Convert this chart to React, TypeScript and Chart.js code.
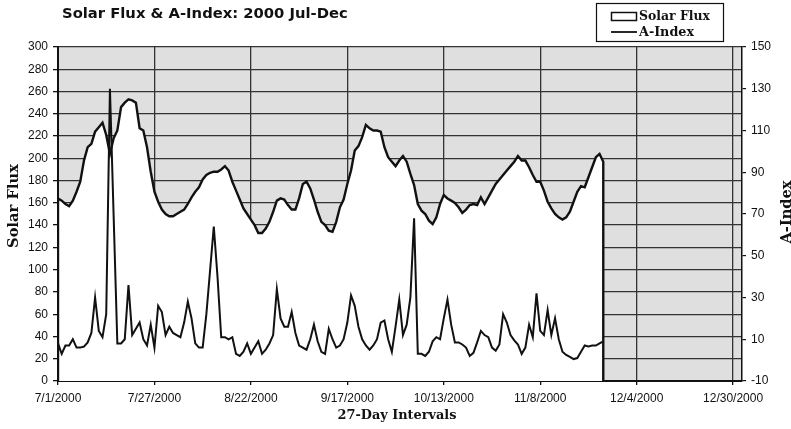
import React, { useEffect, useRef } from "react";
import { Chart, registerables } from "chart.js";

Chart.register(...registerables);

// ---------- text ----------
const chartTitle = "Solar Flux & A-Index: 2000 Jul-Dec";
const xAxisTitle = "27-Day Intervals";
const leftAxisTitle = "Solar Flux";
const rightAxisTitle = "A-Index";
const seriesNames = ["Solar Flux", "A-Index"];

// ---------- axes ----------
const startDate = "7/1/2000";
const xTickLabels = [
  "7/1/2000",
  "7/27/2000",
  "8/22/2000",
  "9/17/2000",
  "10/13/2000",
  "11/8/2000",
  "12/4/2000",
  "12/30/2000",
];
const leftTickValues = [0, 20, 40, 60, 80, 100, 120, 140, 160, 180, 200, 220, 240, 260, 280, 300];
const rightTickValues = [-10, 10, 30, 50, 70, 90, 110, 130, 150];

// ---------- data: one value per day from 7/1/2000 ----------
const solarFlux = [
  164, 162, 159, 157, 162, 170, 179, 198, 210, 213,
  224, 228, 232, 221, 204, 218, 225, 246, 250, 253,
  252, 250, 227, 225, 210, 188, 170, 161, 154, 150,
  148, 148, 150, 152, 154, 159, 165, 170, 174, 181,
  185, 187, 188, 188, 190, 193, 189, 179, 171, 163,
  155, 150, 145, 140, 133, 133, 137, 143, 152, 162,
  164, 163, 158, 154, 154, 164, 177, 179, 173, 163,
  152, 143, 140, 135, 134, 143, 156, 163, 177, 189,
  207, 211, 219, 230, 227, 225, 225, 224, 210, 201,
  197, 193, 198, 202, 197, 186, 176, 159, 153, 150,
  144, 141, 147, 159, 167, 164, 162, 160, 156, 151,
  154, 158, 159, 158, 165, 159, 165, 171, 177, 181,
  185, 189, 193, 197, 202, 198, 198, 192, 185, 179,
  179, 171, 161, 155, 150, 147, 145, 147, 152, 161,
  170, 175, 174, 183, 192, 201, 204, 197,
];

const aIndex = [
  8, 3, 7, 7, 10, 6, 6, 6.5, 8.5, 13,
  30, 14, 11, 22, 130, 69, 8, 8, 10, 36,
  12, 15, 18, 10, 7, 17, 6, 26, 23, 12,
  16, 13, 12, 11, 18, 28, 20, 8, 6, 6,
  22, 43, 64, 40, 11, 11, 10, 11, 3, 2,
  4, 8, 3, 6, 9, 3, 5, 8, 12, 34,
  20, 16, 16, 23, 13, 7, 6, 5, 10, 17,
  9, 4, 3, 15, 10, 6, 7, 10, 18, 31,
  26, 16, 10, 7, 5, 7, 10, 18, 19, 10,
  4, 16, 29, 12, 17, 30, 68, 3, 3, 2,
  4, 9, 11, 10, 20, 29, 17, 8.5, 8.5, 7.5,
  6, 2, 3.5, 8.5, 14, 12, 11, 6, 4.5, 7.5,
  22, 18, 12, 9.5, 7.5, 3, 6, 17, 11, 32,
  14, 12, 24, 12, 20, 10, 4, 2.5, 1.5, 0.5,
  1, 4, 7, 6.5, 7, 7, 8, 9,
];

// ---------- helpers ----------
function dayOffset(label: string): number {
  const [m, d, y] = label.split("/").map(Number);
  const [m0, d0, y0] = startDate.split("/").map(Number);
  return Math.round((Date.UTC(y, m - 1, d) - Date.UTC(y0, m0 - 1, d0)) / 86400000);
}

const xTickDays = xTickLabels.map(dayOffset);
const lastDay = solarFlux.length - 1;

// area polygon closed down to the baseline at both ends
const fluxPoints = [
  { x: 0, y: 0 },
  ...solarFlux.map((v, i) => ({ x: i, y: v })),
  { x: lastDay, y: 0 },
];
const aIndexPoints = aIndex.map((v, i) => ({ x: i, y: v }));

const TICK_FONT = { family: "'Liberation Sans', Arial, sans-serif", size: 12 };
const SERIF = "'DejaVu Serif', 'Liberation Serif', serif";
const INK = "#111111";
const GRID = "#333333";

function fitFont(ctx: CanvasRenderingContext2D, text: string, weight: string, family: string, target: number, base: number) {
  ctx.font = `${weight} ${base}px ${family}`;
  const w = ctx.measureText(text).width;
  const size = (base * target) / w;
  return `${weight} ${size.toFixed(2)}px ${family}`;
}

const decorPlugin = {
  id: "decor",
  beforeDraw(chart: any) {
    const { ctx, chartArea: a } = chart;
    ctx.save();
    ctx.fillStyle = "#dfdfdf";
    ctx.fillRect(a.left, a.top, a.right - a.left, a.bottom - a.top);
    ctx.restore();
  },
  afterDraw(chart: any) {
    const ctx: CanvasRenderingContext2D = chart.ctx;
    ctx.save();
    ctx.fillStyle = INK;
    ctx.textBaseline = "middle";

    // chart title
    ctx.textAlign = "left";
    ctx.font = fitFont(ctx, chartTitle, "bold", "'DejaVu Sans', sans-serif", 286, 13);
    ctx.fillText(chartTitle, 62, 14);

    // x axis title
    ctx.textAlign = "center";
    ctx.font = fitFont(ctx, xAxisTitle, "bold", SERIF, 119, 11);
    ctx.fillText(xAxisTitle, 397, 416);

    // left axis title
    ctx.save();
    ctx.translate(14, 206);
    ctx.rotate(-Math.PI / 2);
    ctx.font = fitFont(ctx, leftAxisTitle, "bold", SERIF, 84, 12);
    ctx.fillText(leftAxisTitle, 0, 0);
    ctx.restore();

    // right axis title
    ctx.save();
    ctx.translate(787, 212);
    ctx.rotate(-Math.PI / 2);
    ctx.font = fitFont(ctx, rightAxisTitle, "bold", SERIF, 63, 12);
    ctx.fillText(rightAxisTitle, 0, 0);
    ctx.restore();

    // legend
    const bx = 596, by = 3, bw = 127, bh = 38;
    ctx.fillStyle = "#ffffff";
    ctx.fillRect(bx, by, bw, bh);
    ctx.strokeStyle = INK;
    ctx.lineWidth = 1.2;
    ctx.strokeRect(bx + 0.5, by + 0.5, bw, bh);
    // solar flux swatch (hollow box)
    ctx.lineWidth = 1.5;
    ctx.strokeRect(611.5, 12.5, 25, 8);
    // a-index swatch (line)
    ctx.beginPath();
    ctx.moveTo(611, 32);
    ctx.lineTo(637, 32);
    ctx.lineWidth = 1.8;
    ctx.stroke();
    ctx.fillStyle = INK;
    ctx.textAlign = "left";
    ctx.font = fitFont(ctx, seriesNames[0], "bold", SERIF, 71, 10);
    ctx.fillText(seriesNames[0], 639, 17);
    ctx.font = fitFont(ctx, seriesNames[1], "bold", SERIF, 55, 10);
    ctx.fillText(seriesNames[1], 639, 33);

    ctx.restore();
  },
};

export default function App() {
  const ref = useRef<HTMLCanvasElement | null>(null);

  useEffect(() => {
    if (!ref.current) return;
    const chart = new Chart(ref.current, {
      type: "line",
      data: {
        datasets: [
          {
            label: seriesNames[1],
            data: aIndexPoints,
            yAxisID: "y2",
            borderColor: INK,
            borderWidth: 2,
            pointRadius: 0,
            fill: false,
            tension: 0,
            order: 1,
          },
          {
            label: seriesNames[0],
            data: fluxPoints,
            yAxisID: "y",
            borderColor: INK,
            borderWidth: 2.4,
            backgroundColor: "#ffffff",
            pointRadius: 0,
            fill: "origin",
            tension: 0,
            order: 2,
          },
        ],
      } as any,
      options: {
        animation: false,
        responsive: true,
        maintainAspectRatio: false,
        layout: { padding: { top: 47, left: 0, right: 0, bottom: 0 } },
        plugins: {
          legend: { display: false },
          title: { display: false },
          tooltip: { enabled: false },
        },
        scales: {
          x: {
            type: "linear",
            bounds: "data",
            min: 0,
            max: xTickDays[xTickDays.length - 1] + 2.4,
            afterBuildTicks: (s: any) => {
              s.ticks = xTickDays.map((v) => ({ value: v }));
            },
            afterFit: (s: any) => {
              s.height = 48;
            },
            ticks: {
              autoSkip: false,
              maxRotation: 0,
              padding: 6,
              color: INK,
              font: TICK_FONT,
              callback: (v: any) => xTickLabels[xTickDays.indexOf(Number(v))] ?? "",
            },
            grid: { color: GRID, lineWidth: 1.3, tickLength: 4, tickColor: INK },
            border: { color: INK, width: 2 },
          },
          y: {
            type: "linear",
            position: "left",
            bounds: "data",
            min: 0,
            max: 300,
            afterBuildTicks: (s: any) => {
              s.ticks = leftTickValues.map((v) => ({ value: v }));
            },
            afterFit: (s: any) => {
              s.width = 58;
            },
            ticks: { padding: 5, color: INK, font: TICK_FONT, autoSkip: false },
            grid: { color: GRID, lineWidth: 1.3, tickLength: 5, tickColor: INK },
            border: { color: INK, width: 2 },
          },
          y2: {
            type: "linear",
            position: "right",
            bounds: "data",
            min: -10,
            max: 150,
            afterBuildTicks: (s: any) => {
              s.ticks = rightTickValues.map((v) => ({ value: v }));
            },
            afterFit: (s: any) => {
              s.width = 49;
            },
            ticks: { padding: 5, color: INK, font: TICK_FONT, autoSkip: false },
            grid: { drawOnChartArea: false, tickLength: 4, tickColor: INK, lineWidth: 1.2 },
            border: { color: INK, width: 1.5 },
          },
        },
      } as any,
      plugins: [decorPlugin],
    });
    return () => chart.destroy();
  }, []);

  return (
    <div style={{ position: "fixed", left: 0, top: 0, width: 791, height: 429 }}>
      <canvas ref={ref} />
    </div>
  );
}
